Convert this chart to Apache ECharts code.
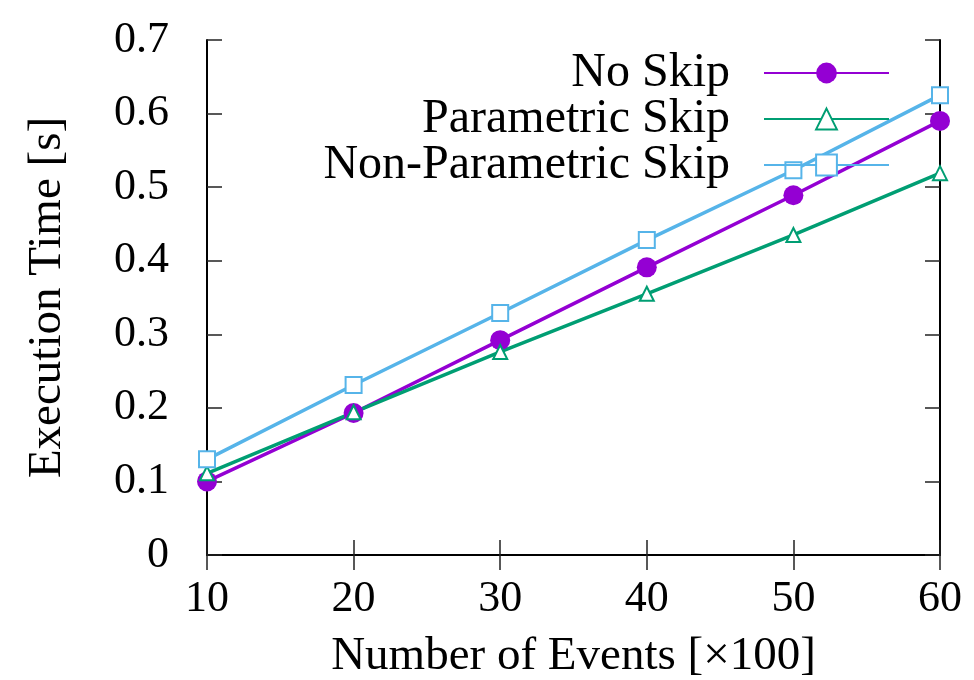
<!DOCTYPE html>
<html><head><meta charset="utf-8">
<script src="https://cdn.jsdelivr.net/npm/echarts@6/dist/echarts.min.js"></script>
<style>html,body{margin:0;padding:0;background:#fff}#c{width:974px;height:680px}</style>
</head><body><div id="c"></div>
<script>
const categories = [10, 20, 30, 40, 50, 60];
const noSkip = [0.100, 0.193, 0.292, 0.391, 0.489, 0.590];
const parametricSkip = [0.111, 0.194, 0.276, 0.355, 0.435, 0.519];
const nonParametricSkip = [0.130, 0.231, 0.329, 0.428, 0.523, 0.625];
const seriesNames = ['No Skip', 'Parametric Skip', 'Non-Parametric Skip'];

const font = 'Liberation Serif';
const chart = echarts.init(document.getElementById('c'));
const pairs = arr => categories.map((c, i) => [c, arr[i]]);
const axisCommon = {
  axisLine: {show: true, lineStyle: {color: '#000', width: 2}},
  axisTick: {show: true, inside: true, length: 15, lineStyle: {color: '#222', width: 1.5}},
  splitLine: {show: false}
};
chart.setOption({
  animation: false,
  grid: {left: 207, right: 34, top: 40, bottom: 125, show: false, containLabel: false, outerBoundsMode: 'none'},
  legend: {
    orient: 'vertical', right: 79, top: 44, align: 'right',
    itemWidth: 125, itemHeight: 26, itemGap: -2,
    textStyle: {fontFamily: font, fontSize: 48, lineHeight: 40, color: '#000', padding: [0, 29, 0, 0]},
    data: seriesNames
  },
  xAxis: [
    Object.assign({type: 'value', min: 10, max: 60, interval: 10, position: 'bottom',
      axisLabel: {fontFamily: font, fontSize: 44, color: '#000', margin: 22},
      name: 'Number of Events [×100]', nameLocation: 'middle', nameGap: 78,
      nameTextStyle: {fontFamily: font, fontSize: 47, color: '#000'}}, axisCommon),
    Object.assign({type: 'value', min: 10, max: 60, interval: 10, position: 'top',
      axisLabel: {show: false}}, axisCommon)
  ],
  yAxis: [
    Object.assign({type: 'value', min: 0, max: 0.7, interval: 0.1, position: 'left',
      axisLabel: {fontFamily: font, fontSize: 44, color: '#000', margin: 38,
        formatter: v => (Math.round(v * 10) / 10).toString()},
      name: 'Execution Time [s]', nameLocation: 'middle', nameGap: 136, nameRotate: 90,
      nameTextStyle: {fontFamily: font, fontSize: 47, color: '#000'}}, axisCommon),
    Object.assign({type: 'value', min: 0, max: 0.7, interval: 0.1, position: 'right',
      axisLabel: {show: false}}, axisCommon)
  ],
  series: [
    {name: seriesNames[0], type: 'line', data: pairs(noSkip), color: '#9400D3',
      symbol: 'circle', symbolSize: 20, lineStyle: {width: 3.5}, itemStyle: {color: '#9400D3'}},
    {name: seriesNames[1], type: 'line', data: pairs(parametricSkip), color: '#009E73',
      symbol: 'emptyTriangle', symbolSize: 14, lineStyle: {width: 3.5},
      itemStyle: {color: '#009E73', borderColor: '#009E73', borderWidth: 3.5}},
    {name: seriesNames[2], type: 'line', data: pairs(nonParametricSkip), color: '#56B4E9',
      symbol: 'emptyRect', symbolSize: 16, lineStyle: {width: 3.5},
      itemStyle: {color: '#56B4E9', borderColor: '#56B4E9', borderWidth: 3.5}}
  ]
});
</script></body></html>
